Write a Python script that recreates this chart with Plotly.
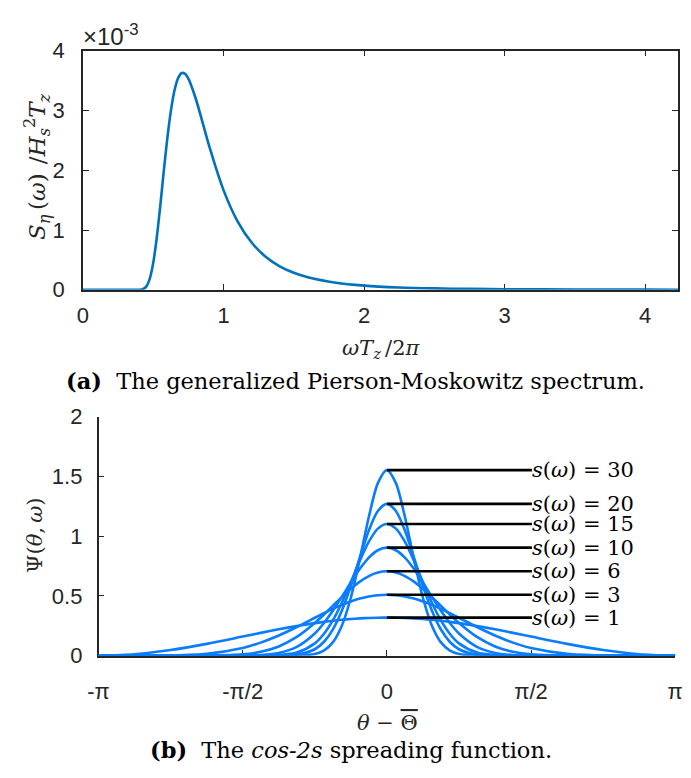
import plotly.graph_objects as go

# ---------------- data: top panel (generalized Pierson-Moskowitz spectrum) ----------------
omega_tz = [0.0, 0.2, 0.3, 0.35, 0.4, 0.425, 0.45, 0.475, 0.5, 0.525, 0.55, 0.575, 0.6, 0.625,
            0.65, 0.675, 0.7, 0.725, 0.75, 0.8, 0.85, 0.9, 1.0, 1.1, 1.2, 1.3, 1.4, 1.5, 1.6,
            1.8, 2.0, 2.25, 2.5, 2.75, 3.0, 3.5, 4.0, 4.3]
spectrum_e3 = [0, 0, 0, 0, 0.001, 0.0096, 0.0529, 0.1826, 0.4505, 0.8708, 1.4057, 1.9836, 2.529,
               2.9858, 3.3226, 3.5313, 3.6237, 3.6170, 3.5334, 3.2169, 2.8085, 2.3904, 1.6679,
               1.1456, 0.7904, 0.5525, 0.3924, 0.2836, 0.2083, 0.1177, 0.0702, 0.0393, 0.0233,
               0.0145, 0.0094, 0.0044, 0.0022, 0.0016]

# ---------------- data: bottom panel (cos-2s spreading function) ----------------
theta_pi = [-1.0, -0.875, -0.75, -0.625, -0.5, -0.4375, -0.375, -0.3125, -0.25, -0.21875, -0.1875,
            -0.15625, -0.125, -0.09375, -0.0625, -0.03125, 0.0, 0.03125, 0.0625, 0.09375, 0.125,
            0.15625, 0.1875, 0.21875, 0.25, 0.3125, 0.375, 0.4375, 0.5, 0.625, 0.75, 0.875, 1.0]
psi_s1 = [0.0, 0.0121, 0.0466, 0.0982, 0.1592, 0.1902, 0.2201, 0.2476, 0.2717, 0.2822, 0.2915,
          0.2995, 0.3062, 0.3115, 0.3153, 0.3175, 0.3183, 0.3175, 0.3153, 0.3115, 0.3062, 0.2995,
          0.2915, 0.2822, 0.2717, 0.2476, 0.2201, 0.1902, 0.1592, 0.0982, 0.0466, 0.0121, 0.0]
psi_s3 = [0.0, 0.0000, 0.0016, 0.0150, 0.0637, 0.1087, 0.1683, 0.2396, 0.3167, 0.3548, 0.3911,
          0.4243, 0.4533, 0.4771, 0.4948, 0.5056, 0.5093, 0.5056, 0.4948, 0.4771, 0.4533, 0.4243,
          0.3911, 0.3548, 0.3167, 0.2396, 0.1683, 0.1087, 0.0637, 0.0150, 0.0016, 0.0000, 0.0]
psi_s6 = [0, 0, 0.0000, 0.0006, 0.0110, 0.0321, 0.0770, 0.1562, 0.2728, 0.3425, 0.4160, 0.4897,
          0.5590, 0.6192, 0.6658, 0.6954, 0.7055, 0.6954, 0.6658, 0.6192, 0.5590, 0.4897, 0.4160,
          0.3425, 0.2728, 0.1562, 0.0770, 0.0321, 0.0110, 0.0006, 0, 0, 0]
psi_s10 = [0, 0, 0, 0, 0.0009, 0.0052, 0.0225, 0.0732, 0.1854, 0.2708, 0.3746, 0.4915, 0.6128,
           0.7266, 0.8202, 0.8818, 0.9033, 0.8818, 0.8202, 0.7266, 0.6128, 0.4915, 0.3746, 0.2708,
           0.1854, 0.0732, 0.0225, 0.0052, 0.0009, 0, 0, 0, 0]
psi_s15 = [0, 0, 0, 0, 0, 0.0005, 0.0043, 0.0254, 0.1025, 0.1808, 0.2942, 0.4422, 0.6156, 0.7948,
           0.9532, 1.0626, 1.1017, 1.0626, 0.9532, 0.7948, 0.6156, 0.4422, 0.2942, 0.1808, 0.1025,
           0.0254, 0.0043, 0.0005, 0, 0, 0, 0, 0]
psi_s20 = [0, 0, 0, 0, 0, 0, 0.0008, 0.0083, 0.0535, 0.1141, 0.2183, 0.3759, 0.5842, 0.8215,
           1.0466, 1.2097, 1.2695, 1.2097, 1.0466, 0.8215, 0.5842, 0.3759, 0.2183, 0.1141, 0.0535,
           0.0083, 0.0008, 0, 0, 0, 0, 0, 0]
psi_s30 = [0, 0, 0, 0, 0, 0, 0, 0.0008, 0.0134, 0.0418, 0.1106, 0.2500, 0.4844, 0.8076, 1.1615,
           1.4433, 1.5516, 1.4433, 1.1615, 0.8076, 0.4844, 0.2500, 0.1106, 0.0418, 0.0134, 0.0008,
           0, 0, 0, 0, 0, 0, 0]
s_values = [1, 3, 6, 10, 15, 20, 30]
psi_series = [psi_s1, psi_s3, psi_s6, psi_s10, psi_s15, psi_s20, psi_s30]
label_x_pi = [0.0, 0.503]  # leader lines from the peak to the label (units of pi)

top_ticks = [0, 1, 2, 3, 4]
bot_xticks = [-1, -0.5, 0, 0.5, 1]
bot_xticktext = ["-\u03c0", "-\u03c0/2", "0", "\u03c0/2", "\u03c0"]
bot_yticks = [0, 0.5, 1, 1.5, 2]

# ---------------- figure ----------------
W, H = 691, 778
AX = "#262626"
SANS = "Liberation Sans, Arial, sans-serif"
SERIF = "DejaVu Serif, serif"
BLUE_TOP = "#0072BD"
BLUE_BOT = "#0A7CFF"

def px(x):
    return x / W

def py(y):
    return 1 - y / H

fig = go.Figure()

fig.add_trace(go.Scatter(x=omega_tz, y=spectrum_e3, mode="lines",
                         line=dict(color=BLUE_TOP, width=2.6, shape="spline", smoothing=0.8),
                         xaxis="x", yaxis="y", showlegend=False, hoverinfo="skip"))

for s, ser in zip(s_values, psi_series):
    fig.add_trace(go.Scatter(x=theta_pi, y=ser, mode="lines",
                             line=dict(color=BLUE_BOT, width=2.6, shape="spline", smoothing=0.8),
                             xaxis="x2", yaxis="y2", showlegend=False, hoverinfo="skip"))

annotations = []
for s, ser in zip(s_values, psi_series):
    peak = ser[theta_pi.index(0.0)]
    fig.add_trace(go.Scatter(x=label_x_pi, y=[peak, peak], mode="lines",
                             line=dict(color="black", width=2.6),
                             xaxis="x2", yaxis="y2", showlegend=False, hoverinfo="skip"))
    annotations.append(dict(x=label_x_pi[1], y=peak, xref="x2", yref="y2",
                            text="<i>s</i>(<i>\u03c9</i>) = %d" % s,
                            showarrow=False, xanchor="left", yanchor="middle",
                            xshift=-1, borderpad=0,
                            font=dict(family=SERIF, size=21, color="black")))

axis_common = dict(showline=True, linecolor=AX, linewidth=1.5, ticks="inside", ticklen=6,
                   tickwidth=1.3, tickcolor=AX, showgrid=False, zeroline=False,
                   tickfont=dict(family=SANS, size=22, color=AX), layer="below traces")

fig.update_layout(
    width=W, height=H, margin=dict(l=0, r=0, t=0, b=0),
    paper_bgcolor="white", plot_bgcolor="white",
    xaxis=dict(domain=[px(74), px(686)], range=[0, 4.235], tickvals=top_ticks, anchor="y",
               mirror="ticks", ticklabelstandoff=5, **axis_common),
    yaxis=dict(domain=[py(287), py(40)], range=[0, 4], tickvals=top_ticks, anchor="x",
               mirror="ticks", ticklabelstandoff=12, **axis_common),
    xaxis2=dict(domain=[px(90), px(683)], range=[-1, 1], tickvals=bot_xticks,
                ticktext=bot_xticktext, anchor="y2", ticklabelstandoff=15, **axis_common),
    yaxis2=dict(domain=[py(665), py(418)], range=[0, 2], tickvals=bot_yticks, anchor="x2",
                ticklabelstandoff=10, **axis_common),
)

mathfont = dict(family=SERIF, size=21, color=AX)
annotations += [
    dict(x=px(72), y=py(24), xref="paper", yref="paper", text="\u00d710<sup>-3</sup>",
         showarrow=False, xanchor="left", yanchor="middle",
         font=dict(family=SANS, size=24, color=AX)),
    dict(x=px(27), y=py(160), xref="paper", yref="paper", textangle=-90,
         text="<i>S</i><sub><i>\u03b7</i></sub>\u2009(<i>\u03c9</i>)\u2009\u2009/<i>H</i><sub><i>s</i></sub><sup>2</sup><i>T</i><sub><i>z</i></sub>",
         showarrow=False, xanchor="center", yanchor="middle",
         font=dict(family=SERIF, size=23, color=AX)),
    dict(x=px(381), y=py(348), xref="paper", yref="paper",
         text="<i>\u03c9T</i><sub><i>z</i></sub>\u2009/2<i>\u03c0</i>",
         showarrow=False, xanchor="center", yanchor="middle", font=mathfont),
    dict(x=px(24), y=py(541), xref="paper", yref="paper", textangle=-90,
         text="\u03a8(<i>\u03b8</i>,\u2009<i>\u03c9</i>)",
         showarrow=False, xanchor="center", yanchor="middle", font=mathfont),
    dict(x=px(387), y=py(735), xref="paper", yref="paper",
         text="<i>\u03b8</i> \u2212 <span style='text-decoration:overline'>\u0398</span>",
         showarrow=False, xanchor="center", yanchor="middle", font=mathfont),
    dict(x=px(354), y=py(381), xref="paper", yref="paper",
         text="<b>(a)</b>  The generalized Pierson-Moskowitz spectrum.",
         showarrow=False, xanchor="center", yanchor="middle",
         font=dict(family=SERIF, size=22.5, color="black")),
    dict(x=px(350), y=py(763), xref="paper", yref="paper",
         text="<b>(b)</b>  The <i>cos-2s</i> spreading function.",
         showarrow=False, xanchor="center", yanchor="middle",
         font=dict(family=SERIF, size=22.5, color="black")),
]
fig.update_layout(annotations=annotations)

fig.write_html("out.html")
